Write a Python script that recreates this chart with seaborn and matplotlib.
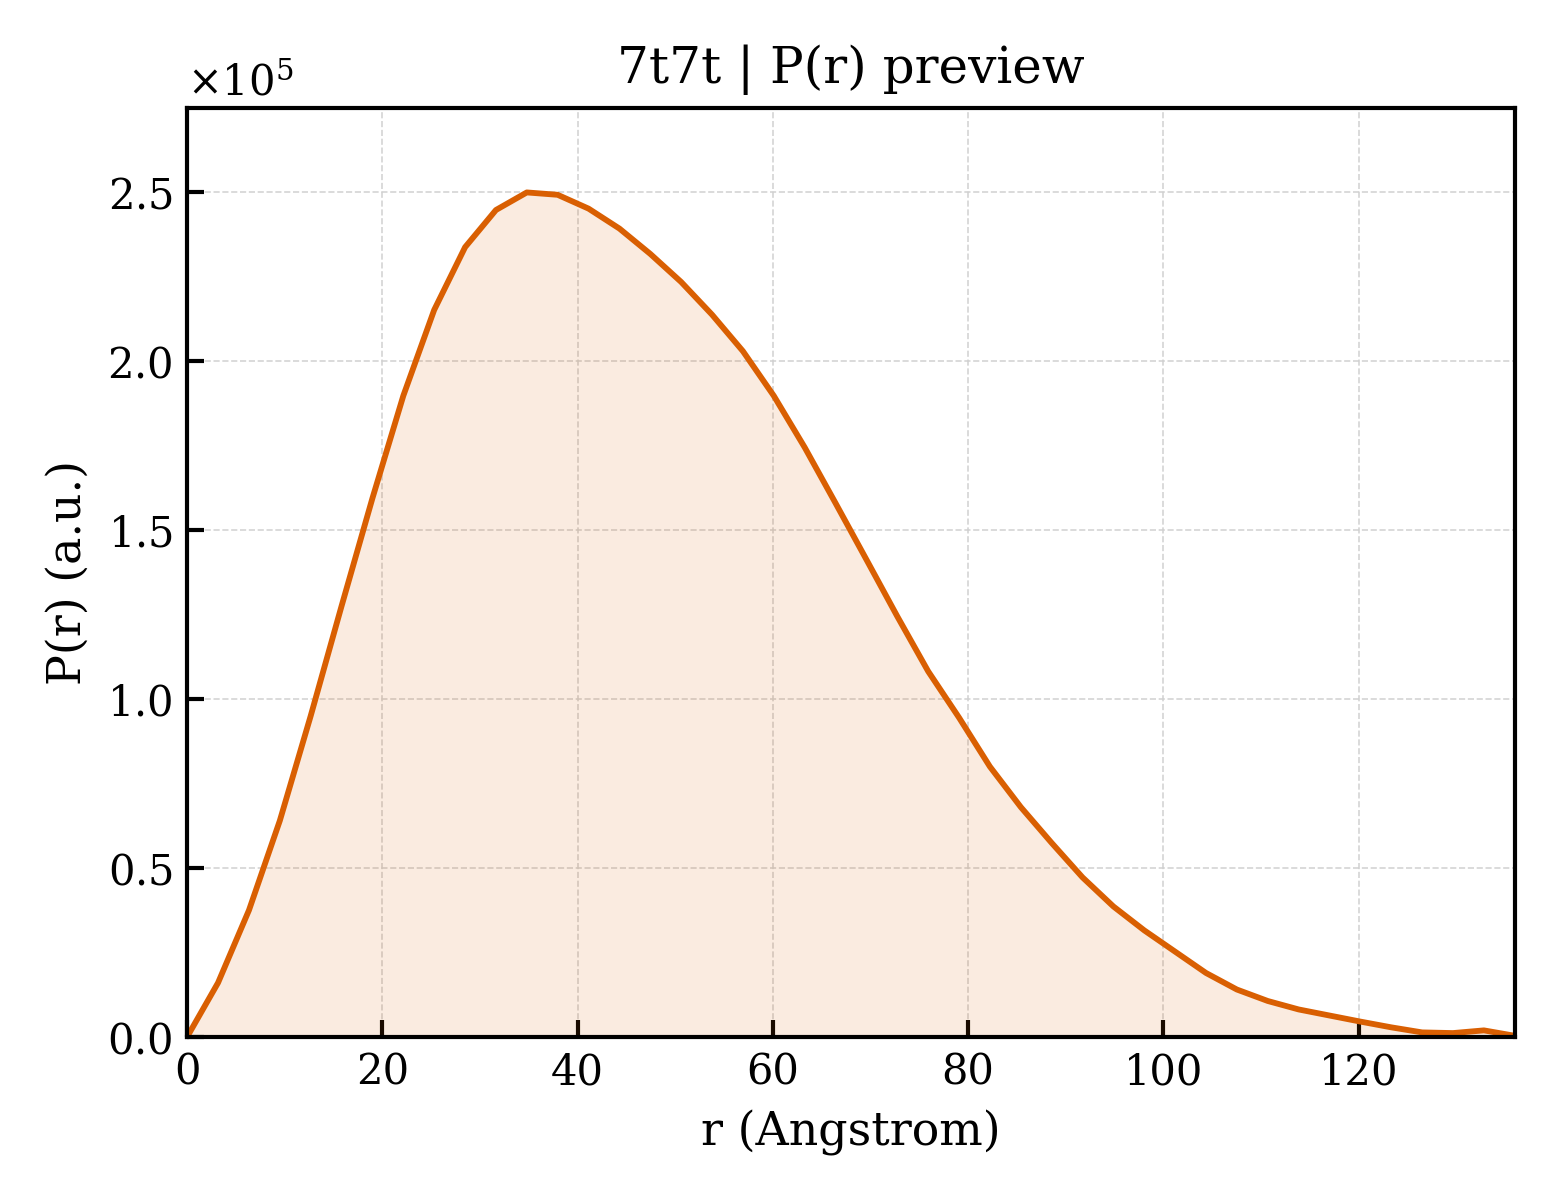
import numpy as np
import pandas as pd
import matplotlib
matplotlib.use("Agg")
import matplotlib.pyplot as plt
import seaborn as sns
from matplotlib.ticker import ScalarFormatter

# P(r) samples (r in Angstrom, P in units of 1e5)
r_vals = [0.00, 3.16, 6.33, 9.49, 12.65, 15.81, 18.98, 22.14, 25.30, 28.47,
          31.63, 34.79, 37.95, 41.12, 44.28, 47.44, 50.60, 53.77, 56.93, 60.09,
          63.26, 66.42, 69.58, 72.74, 75.91, 79.07, 82.23, 85.40, 88.56, 91.72,
          94.88, 98.05, 101.21, 104.37, 107.53, 110.70, 113.86, 117.02, 120.19,
          123.35, 126.51, 129.67, 132.84, 136.00]
p_vals = [0.0, 0.160, 0.375, 0.640, 0.950, 1.275, 1.595, 1.898, 2.152, 2.338,
          2.448, 2.500, 2.493, 2.452, 2.393, 2.318, 2.235, 2.138, 2.030, 1.898,
          1.745, 1.580, 1.413, 1.245, 1.082, 0.945, 0.800, 0.680, 0.574, 0.472,
          0.386, 0.315, 0.252, 0.189, 0.140, 0.106, 0.081, 0.063, 0.045,
          0.028, 0.013, 0.011, 0.019, 0.003]

df = pd.DataFrame({"r": r_vals, "P": np.array(p_vals) * 1e5})

line_color = "#d95f02"

sns.set_style("white")
plt.rcParams["font.family"] = ["DejaVu Serif"]
plt.rcParams["mathtext.fontset"] = "dejavuserif"
plt.rcParams["text.color"] = "black"
plt.rcParams["axes.labelcolor"] = "black"
plt.rcParams["xtick.color"] = "black"
plt.rcParams["ytick.color"] = "black"
plt.rcParams["xtick.direction"] = "in"
plt.rcParams["ytick.direction"] = "in"

fig, ax = plt.subplots(figsize=(5.2, 4.0), dpi=300)

ax.fill_between(df["r"], df["P"], 0, color=line_color, alpha=0.12, linewidth=0)
sns.lineplot(data=df, x="r", y="P", ax=ax, color=line_color, linewidth=1.4)

ax.set_xlim(0, df["r"].max())
ax.set_ylim(0, df["P"].max() * 1.1)

fmt = ScalarFormatter(useMathText=True)
fmt.set_powerlimits((0, 0))
ax.yaxis.set_major_formatter(fmt)
ax.yaxis.get_offset_text().set_fontsize(10)
ax.yaxis.get_offset_text().set_color("black")

ax.tick_params(axis="both", which="major", labelsize=10, length=4, width=1.0,
               direction="in", top=False, right=False, left=True, bottom=True,
               colors="black")
for sp in ax.spines.values():
    sp.set_visible(True)
    sp.set_color("black")
    sp.set_linewidth(1.0)

ax.grid(True, linestyle="--", linewidth=0.4, color="#d0d0d0", alpha=0.9)

ax.set_title("7t7t | P(r) preview", fontsize=12, color="black")
ax.set_xlabel("r (Angstrom)", fontsize=11, color="black")
ax.set_ylabel("P(r) (a.u.)", fontsize=11, color="black")

plt.subplots_adjust(left=0.12, right=0.971, bottom=0.136, top=0.91)
plt.savefig("out.png", dpi=300)
